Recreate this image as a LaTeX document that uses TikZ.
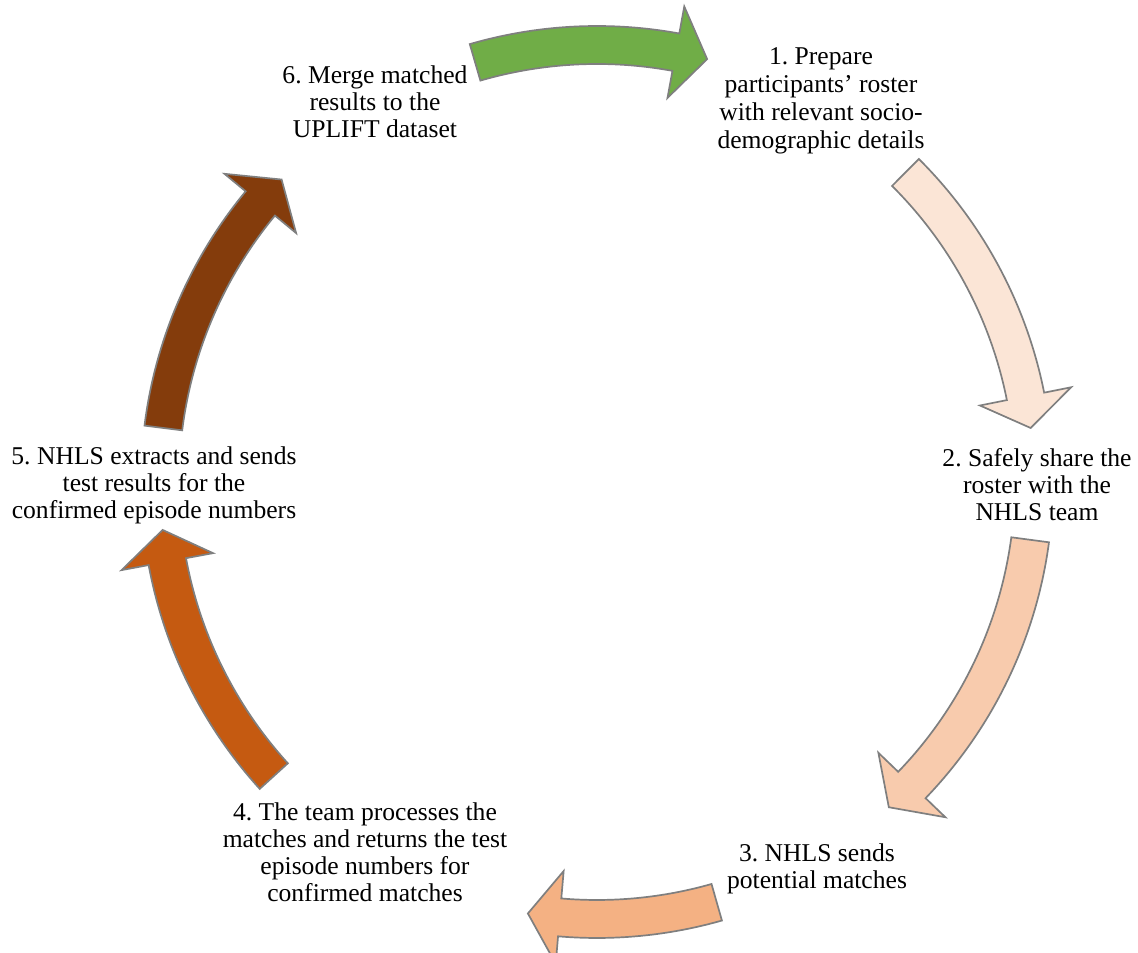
\documentclass[tikz,border=0pt]{standalone}
\usepackage{fontspec}
\setmainfont{Liberation Serif}
\usetikzlibrary{calc}
\frenchspacing

\definecolor{rim}{HTML}{7F7F7F}
\definecolor{mergegreen}{HTML}{70AD47}
\definecolor{peachA}{HTML}{FBE5D6}
\definecolor{peachB}{HTML}{F8CBAD}
\definecolor{peachC}{HTML}{F4B183}
\definecolor{rust}{HTML}{C55A11}
\definecolor{umber}{HTML}{843C0C}

% curved block arrow on the ring: #1 fill, #2 tail angle, #3 tip angle
\newcommand{\cyclearrow}[3]{%
  \pgfmathsetmacro\hb{#3+4.2}
  \filldraw[blockarrow,fill=#1]
    ($(hub)+(#2:456pt)$) arc[start angle=#2,end angle=\hb,radius=456pt]
    -- ($(hub)+(\hb:483.5pt)$) -- ($(hub)+(#3:437pt)$) -- ($(hub)+(\hb:390.5pt)$)
    -- ($(hub)+(\hb:418pt)$) arc[start angle=\hb,end angle=#2,radius=418pt] -- cycle;
}

\begin{document}
\begin{tikzpicture}[x=1pt,y=1pt,
    blockarrow/.style={draw=rim,line width=1.7pt,line join=miter},
    steptext/.style={align=center,inner sep=0pt,font=\fontsize{25.6}{27}\selectfont}]
  \useasboundingbox (0,0) rectangle (1138,953);
  \coordinate (hub) at (597,471);

% arrows round the ring
  \cyclearrow{mergegreen}{106.2}{75.4}
  \cyclearrow{peachA}{45.1}{7.1}
  \cyclearrow{peachB}{-7.6}{-48.1}
  \cyclearrow{peachC}{-74.1}{-99.1}
  \cyclearrow{rust}{222.3}{186.3}
  \cyclearrow{umber}{172.9}{136.2}

% steps
  \node[steptext,font=\fontsize{25.6}{28}\selectfont] (prepare) at (821,852.5)
    {1. Prepare\\participants’ roster\\with relevant socio-\\demographic details};
  \node[steptext] (share) at (1037,468) {2. Safely share the\\roster with the\\NHLS team};
  \node[steptext] (matches) at (817,84) {3. NHLS sends\\potential matches};
  \node[steptext] (process) at (365,101)
    {4. The team processes the\\matches and returns the test\\episode numbers for\\confirmed matches};
  \node[steptext] (extract) at (154,468)
    {5. NHLS extracts and sends\\test results for the\\confirmed episode numbers};
  \node[steptext] (merge) at (375,851) {6. Merge matched\\results to the\\UPLIFT dataset};

\end{tikzpicture}
\end{document}
